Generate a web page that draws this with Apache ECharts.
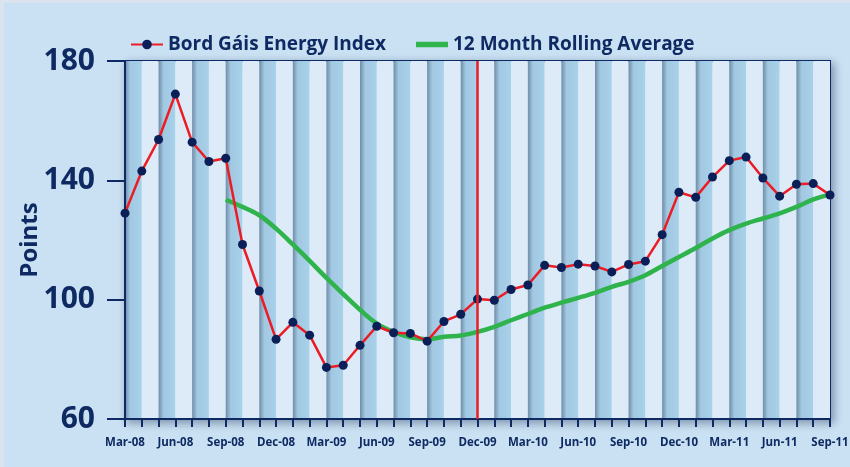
<!DOCTYPE html>
<html>
<head>
<meta charset="utf-8">
<script src="https://cdn.jsdelivr.net/npm/echarts@6/dist/echarts.min.js"></script>
<style>
html,body{margin:0;padding:0;background:#c9e1f3;}
#chart{width:850px;height:467px;}
</style>
</head>
<body>
<div id="chart"></div>
<script>
var categories = ['Mar-08','Apr-08','May-08','Jun-08','Jul-08','Aug-08','Sep-08','Oct-08','Nov-08','Dec-08',
  'Jan-09','Feb-09','Mar-09','Apr-09','May-09','Jun-09','Jul-09','Aug-09','Sep-09','Oct-09','Nov-09','Dec-09',
  'Jan-10','Feb-10','Mar-10','Apr-10','May-10','Jun-10','Jul-10','Aug-10','Sep-10','Oct-10','Nov-10','Dec-10',
  'Jan-11','Feb-11','Mar-11','Apr-11','May-11','Jun-11','Jul-11','Aug-11','Sep-11'];
var indexValues = [129, 143.1, 153.7, 168.9, 152.8, 146.3, 147.4, 118.5, 102.9, 86.7,
  92.4, 88.1, 77.3, 78.0, 84.7, 91.1, 88.9, 88.7, 86.1, 92.7, 95.1, 100.2,
  99.8, 103.4, 104.9, 111.5, 110.8, 111.9, 111.3, 109.3, 111.8, 112.9, 121.8, 136.0,
  134.3, 141.1, 146.6, 147.8, 140.8, 134.7, 138.7, 138.9, 135.1];
var rollingValues = [null, null, null, null, null, null, 133.5, 131.1, 128.3, 123.8,
  118.5, 113.0, 107.3, 101.9, 96.6, 92.0, 89.2, 87.4, 86.7, 87.6, 88.0, 89.2,
  90.9, 93.1, 95.2, 97.3, 99.0, 100.6, 102.3, 104.3, 106.0, 108.2, 111.3, 114.3,
  117.3, 120.5, 123.3, 125.5, 127.2, 128.9, 131.1, 133.6, 135.2];
var seriesNames = ['Bord Gáis Energy Index', '12 Month Rolling Average'];
var markerMonth = 'Dec-09';
var yTicks = {min: 60, max: 180, interval: 40};

var navy = '#0f2a62';
var font = "'Liberation Sans Narrow', 'Open Sans', sans-serif";
var chart = echarts.init(document.getElementById('chart'));
var darkBand = new echarts.graphic.LinearGradient(0, 0, 1, 0, [
  {offset: 0, color: '#6f8da7'},
  {offset: 0.3, color: '#a2c8e2'},
  {offset: 1, color: '#a8d1ea'}
]);
chart.setOption({
  backgroundColor: '#c9e1f3',
  animation: false,
  graphic: [
    {type: 'rect', shape: {x: 0, y: 0, width: 4, height: 467}, style: {fill: '#d9e4ee'}, silent: true},
    {type: 'rect', shape: {x: 0, y: 0, width: 850, height: 3}, style: {fill: '#d9e4ee'}, silent: true}
  ],
  legend: {
    left: 125, top: 30,
    itemWidth: 32, itemHeight: 12, itemGap: 30,
    textStyle: {color: navy, fontWeight: 'bold', fontSize: 19, fontFamily: font},
    data: [
      {name: seriesNames[0]},
      {name: seriesNames[1], icon: 'path://M0 0H40V7H0Z'}
    ]
  },
  grid: {
    left: 125, right: 20, top: 61, bottom: 48, outerBoundsMode: 'none',
    show: true, backgroundColor: '#dcebf7', borderColor: navy, borderWidth: 2,
    shadowColor: 'rgba(0,20,60,0.35)', shadowBlur: 8, shadowOffsetX: 3, shadowOffsetY: 3
  },
  xAxis: {
    type: 'category', boundaryGap: false, data: categories,
    axisLine: {lineStyle: {color: navy, width: 2}},
    axisTick: {interval: 0, length: 8, lineStyle: {color: navy, width: 2}},
    axisLabel: {interval: 2, margin: 18, color: navy, fontWeight: 'bold', fontSize: 11.5, fontFamily: font},
    splitLine: {show: false},
    splitArea: {show: true, interval: 0, areaStyle: {color: [darkBand, '#dcebf7']}}
  },
  yAxis: {
    type: 'value', min: yTicks.min, max: yTicks.max, interval: yTicks.interval,
    name: 'Points', nameLocation: 'middle', nameRotate: 90, nameGap: 83, nameMoveOverlap: false,
    nameTextStyle: {color: navy, fontWeight: 'bold', fontSize: 24, fontFamily: "'Open Sans', sans-serif"},
    axisLine: {show: true, lineStyle: {color: navy, width: 2}},
    axisTick: {show: true, length: 18, lineStyle: {color: navy, width: 2}},
    axisLabel: {margin: 30, color: navy, fontWeight: 'bold', fontSize: 30, fontFamily: "'Open Sans', sans-serif"},
    splitLine: {show: false}
  },
  series: [
    {
      name: seriesNames[1], type: 'line', data: rollingValues, smooth: 0.35,
      symbol: 'none', z: 2,
      lineStyle: {color: '#2fb34c', width: 4.5},
      itemStyle: {color: '#2fb34c'}
    },
    {
      name: seriesNames[0], type: 'line', data: indexValues,
      symbol: 'circle', symbolSize: 9, z: 3,
      lineStyle: {color: '#ec1c24', width: 2.5},
      itemStyle: {color: '#0a1f58'},
      markLine: {
        silent: true, symbol: ['none', 'none'], label: {show: false},
        lineStyle: {color: '#ec1c24', width: 2.5, type: 'solid'},
        data: [{xAxis: markerMonth}]
      }
    }
  ]
});
</script>
</body>
</html>
